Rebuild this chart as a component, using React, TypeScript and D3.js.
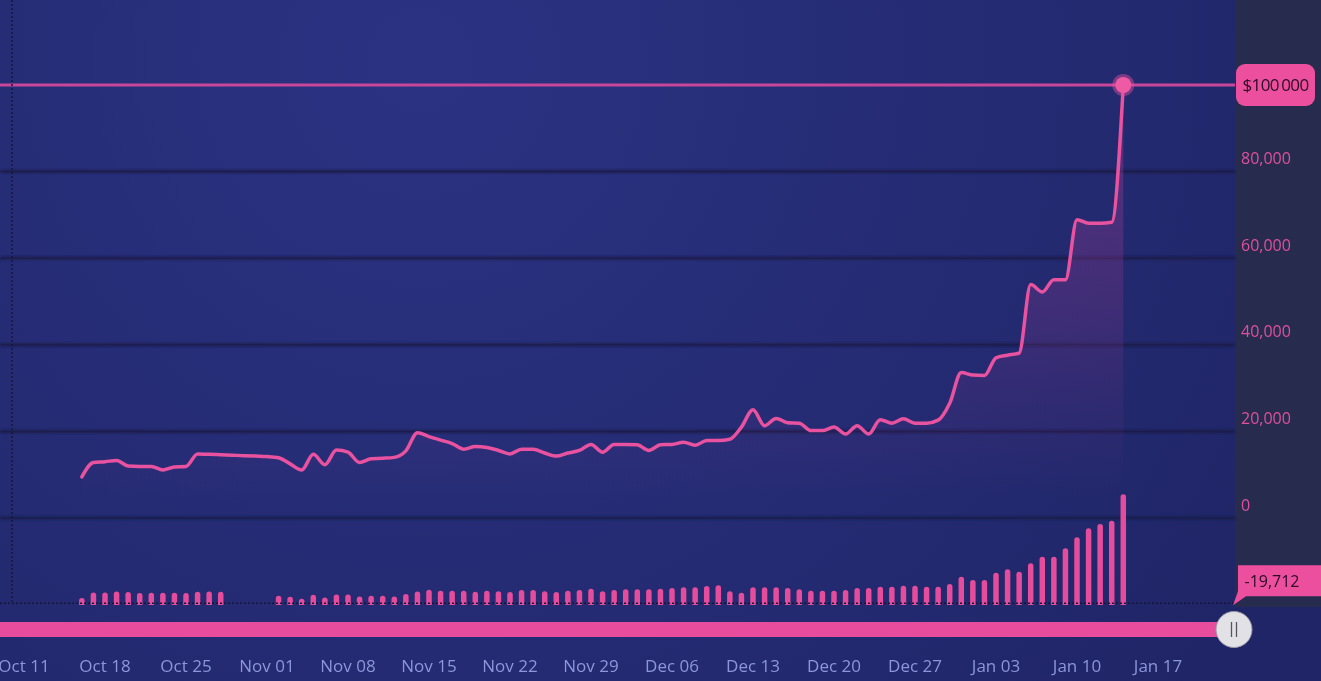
import React from "react";
import * as d3 from "d3";

const W = 1321;
const H = 681;

// first data day and count
const startDate = new Date(Date.UTC(2020, 9, 16));
const endDate = new Date(Date.UTC(2021, 0, 15));

const prices: number[] = [
  9500, 12800, 13000, 13300, 12000, 11900, 11900, 11100, 11800, 11900,
  14800, 14700, 14600, 14500, 14400, 14300, 14200, 13900, 12500, 11100,
  14700, 12300, 15700, 15200, 12800, 13700, 13800, 14000, 15500, 19700,
  18800, 18000, 17200, 15900, 16500, 16300, 15600, 14800, 15900, 15900,
  15000, 14300, 15000, 15600, 17000, 15200, 17000, 17000, 16900, 15600,
  16900, 17000, 17500, 16800, 17900, 17900, 18200, 21000, 25000, 21300,
  23000, 22000, 21900, 20200, 20200, 21000, 19400, 21300, 19400, 22700,
  21900, 22900, 21900, 21900, 22600, 26500, 33600, 33000, 32900, 37000,
  37600, 38100, 53900, 52200, 55000, 55000, 68900, 68100, 68100, 68300, 100000,
];

const volumes: (number | null)[] = [
  7, 12.6, 12.6, 13.6, 13, 12, 12.3, 12.3, 12.3, 12, 13.3, 13.6, 13.3,
  null, null, null, null,
  9.3, 8.3, 6.3, 10.3, 7.6, 10.6, 10.6, 8.6, 9.3, 9.3, 8.6, 11, 13.6, 15.3, 14.3,
  14.3, 14.3, 13.3, 14.3, 13.7, 13.0, 15.0, 15.0, 13.7, 13.0, 14.3, 15.0, 16.3,
  13.7, 15.0, 15.7, 15.7, 15.7, 16.3, 17.0, 17.7, 17.7, 19.0, 19.7, 13.7, 12.3,
  17.7, 17.7, 17.7, 17.0, 15.7, 14.3, 14.3, 14.3, 15.0, 17.0, 17.0, 18.3,
  18.3, 19.3, 19.3, 18.3, 18.3, 21, 28.3, 25, 25, 32.3, 35.7, 33.3, 41.7, 48.3,
  48.3, 56.7, 67.7, 76.7, 81, 84.3, 110.7,
];

const yTicks: number[] = [0, 20000, 40000, 60000, 80000];
const xTickLabels: string[] = [
  "Oct 11", "Oct 18", "Oct 25", "Nov 01", "Nov 08", "Nov 15", "Nov 22",
  "Nov 29", "Dec 06", "Dec 13", "Dec 20", "Dec 27", "Jan 03", "Jan 10", "Jan 17",
];
const lastLabel = "$100\u2009000";
const crosshairValue = -19712;

const dates = d3.utcDay.range(startDate, endDate);
const tickDates = d3.utcWeek.range(
  new Date(Date.UTC(2020, 9, 11)),
  new Date(Date.UTC(2021, 0, 18))
);

const plotRight = 1235;

const x = d3
  .scaleUtc()
  .domain([new Date(Date.UTC(2020, 9, 11)), new Date(Date.UTC(2021, 0, 17))])
  .range([24, 1158]);
const y = d3.scaleLinear().domain([0, 100000]).range([518, 85]);
const vBase = 605;
const yv = d3.scaleLinear().domain([0, 110.7]).range([vBase, 494.3]);

const PINK = "#e8529f";

export default function App() {
  const pts = dates.map((d, i) => ({ d, p: prices[i], v: volumes[i] }));
  const line = d3
    .line<any>()
    .x((p) => x(p.d))
    .y((p) => y(p.p))
    .curve(d3.curveMonotoneX);
  const area = d3
    .area<any>()
    .x((p) => x(p.d))
    .y0(vBase)
    .y1((p) => y(p.p))
    .curve(d3.curveMonotoneX);

  const last = pts[pts.length - 1];
  const lx = x(last.d);
  const ly = y(last.p);
  const bw = 5.5;
  const fmt = (v: number) => d3.format(",")(v).replace("\u2212", "-");
  const cy = y(crosshairValue);

  const barPath = (cx: number, top: number) => {
    const r = bw / 2;
    const l = cx - bw / 2;
    const rr = cx + bw / 2;
    return `M${l},${vBase} L${l},${top + r} A${r},${r} 0 0 1 ${rr},${top + r} L${rr},${vBase} Z`;
  };

  return (
    <div style={{ position: "fixed", left: 0, top: 0, width: W, height: H }}>
      <svg width={W} height={H} style={{ display: "block", fontFamily: "'Open Sans', 'Noto Sans', sans-serif" }}>
        <defs>
          <radialGradient id="bg" cx="420" cy="60" r="1000" gradientUnits="userSpaceOnUse">
            <stop offset="0" stopColor="#2b3282" />
            <stop offset="0.6" stopColor="#242b72" />
            <stop offset="1" stopColor="#1f2566" />
          </radialGradient>
          <linearGradient id="areaFill" x1="0" y1="85" x2="0" y2="500" gradientUnits="userSpaceOnUse">
            <stop offset="0" stopColor="#b0409a" stopOpacity="0.42" />
            <stop offset="0.55" stopColor="#a03a90" stopOpacity="0.22" />
            <stop offset="1" stopColor="#8a3590" stopOpacity="0" />
          </linearGradient>
          <filter id="soft" x="-5%" y="-200%" width="110%" height="500%">
            <feGaussianBlur stdDeviation="0.8" />
          </filter>
        </defs>
        <rect x={0} y={0} width={W} height={H} fill="url(#bg)" />
        <rect x={plotRight} y={0} width={W - plotRight} height={607} fill="#272b4e" />

        {/* gridlines */}
        <g filter="url(#soft)">
          {yTicks.map((t) => (
            <line key={t} x1={0} x2={plotRight} y1={y(t)} y2={y(t)} stroke="#1a1e4a" strokeWidth={3} />
          ))}
        </g>

        {/* area + line */}
        <path d={area(pts) || ""} fill="url(#areaFill)" />
        <path d={line(pts) || ""} fill="none" stroke={PINK} strokeWidth={3.5} strokeLinejoin="round" strokeLinecap="round" />

        {/* volume bars */}
        {pts.map((p, i) =>
          p.v == null ? null : (
            <path key={i} d={barPath(x(p.d), yv(p.v))} fill="#e64c9c" />
          )
        )}

        {/* last price line */}
        <line x1={0} x2={plotRight} y1={ly} y2={ly} stroke="#c9479a" strokeWidth={3} />
        <circle cx={lx} cy={ly} r={11} fill="#e8509e" opacity={0.45} />
        <circle cx={lx} cy={ly} r={8} fill="#ee5aa4" />

        {/* crosshair */}
        <line x1={12} x2={12} y1={0} y2={cy} stroke="#14173a" strokeWidth={1.5} strokeDasharray="2,2" />
        <line x1={0} x2={plotRight} y1={cy} y2={cy} stroke="#14173a" strokeWidth={1.5} strokeDasharray="2,2" />

        {/* y axis labels */}
        {yTicks.map((t) => (
          <text key={t} x={1241} y={y(t) - 13} dy="0.35em" fill="#e0509c" fontSize={16}>
            {fmt(t)}
          </text>
        ))}

        {/* last value badge */}
        <rect x={1236} y={ly - 21} width={79} height={42} rx={9} fill="#ec4f9e" />
        <text x={1275.5} y={ly} dy="0.35em" textAnchor="middle" fill="#2a0c26" fontSize={17} letterSpacing={-0.6}>
          {lastLabel}
        </text>

        {/* crosshair badge */}
        <path
          d={`M${1238},${cy - 38} L${W},${cy - 38} L${W},${cy - 7} L${1246},${cy - 7} L${1233},${cy + 2} L${1238},${cy - 12} Z`}
          fill="#ec4f9e"
        />
        <text x={1272} y={cy - 22} dy="0.35em" textAnchor="middle" fill="#2a0c26" fontSize={16}>
          {fmt(crosshairValue)}
        </text>

        {/* scrollbar */}
        <rect x={0} y={622} width={plotRight} height={15} fill="#e84c9c" />
        <circle cx={1234} cy={629.5} r={18} fill="#e2e2e6" stroke="#9a9aa8" strokeWidth={1} />
        <line x1={1231.5} x2={1231.5} y1={622} y2={637} stroke="#55555f" strokeWidth={1.3} />
        <line x1={1236.5} x2={1236.5} y1={622} y2={637} stroke="#55555f" strokeWidth={1.3} />

        {/* x axis labels */}
        {tickDates.map((d, i) => (
          <text key={i} x={x(d)} y={666} dy="0.35em" textAnchor="middle" fill="#8d96da" fontSize={17}>
            {xTickLabels[i]}
          </text>
        ))}
      </svg>
    </div>
  );
}
